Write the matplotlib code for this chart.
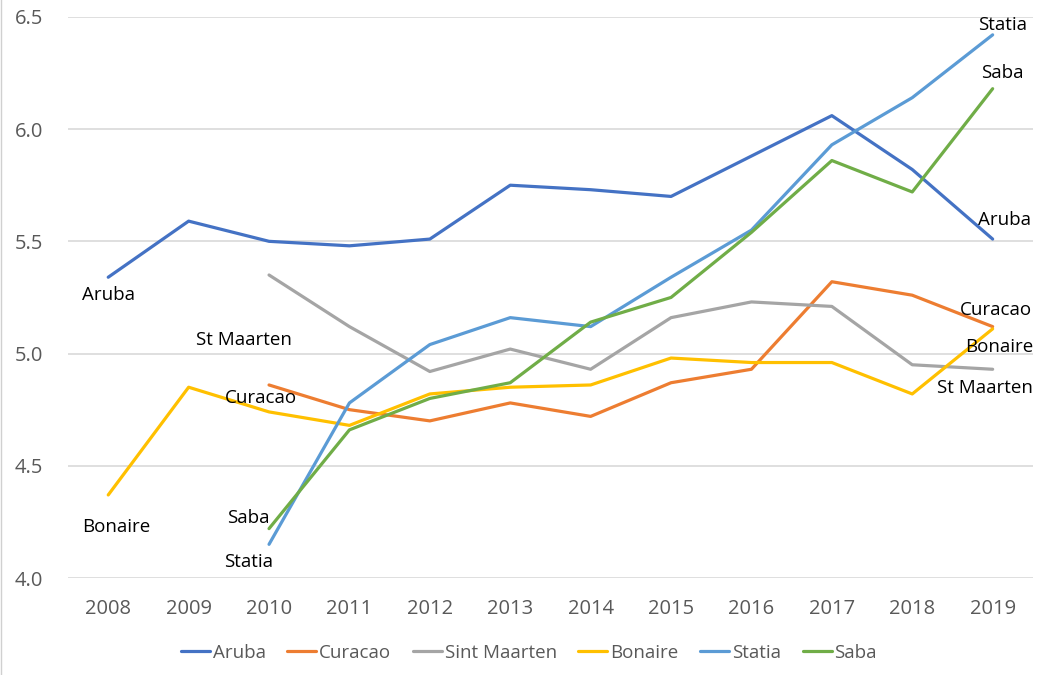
import matplotlib
matplotlib.use("Agg")
import matplotlib.pyplot as plt
from matplotlib.lines import Line2D

years = ["2008", "2009", "2010", "2011", "2012", "2013", "2014", "2015", "2016", "2017", "2018", "2019"]

aruba = [5.34, 5.59, 5.50, 5.48, 5.51, 5.75, 5.73, 5.70, 5.88, 6.06, 5.82, 5.51]
curacao = [None, None, 4.86, 4.75, 4.70, 4.78, 4.72, 4.87, 4.93, 5.32, 5.26, 5.12]
st_maarten = [None, None, 5.35, 5.12, 4.92, 5.02, 4.93, 5.16, 5.23, 5.21, 4.95, 4.93]
bonaire = [4.37, 4.85, 4.74, 4.68, 4.82, 4.85, 4.86, 4.98, 4.96, 4.96, 4.82, 5.11]
statia = [None, None, 4.15, 4.78, 5.04, 5.16, 5.12, 5.34, 5.55, 5.93, 6.14, 6.42]
saba = [None, None, 4.22, 4.66, 4.80, 4.87, 5.14, 5.25, 5.54, 5.86, 5.72, 6.18]

names = ["Aruba", "Curacao", "Sint Maarten", "Bonaire", "Statia", "Saba"]
short = ["Aruba", "Curacao", "St Maarten", "Bonaire", "Statia", "Saba"]
series = [aruba, curacao, st_maarten, bonaire, statia, saba]
colors = ["#4472C4", "#ED7D31", "#A5A5A5", "#FFC000", "#5B9BD5", "#70AD47"]

# label offsets in pixels (dx, dy) for first and last point
first_off = [(0, -18), (-8, -13), (-25, -65), (8, -32), (-20, -18), (-21, 11)]
last_off = [(12, 19), (3, 17), (-8, -19), (7, -18), (10, 10), (10, 16)]

plt.rcParams["font.family"] = ["Open Sans", "DejaVu Sans"]

fig = plt.figure(figsize=(10.37, 6.75), dpi=100)
ax = fig.add_axes([0.0656, 0.1437, 0.9304, 0.8313])

x = list(range(len(years)))
for name, lab, vals, c, fo, lo in zip(names, short, series, colors, first_off, last_off):
    xs = [i for i, v in zip(x, vals) if v is not None]
    ys = [v for v in vals if v is not None]
    ax.plot(xs, ys, color=c, lw=2.3, label=name, solid_capstyle="round")
    ax.annotate(lab, (xs[0], ys[0]), xytext=fo, textcoords="offset pixels",
                ha="center", va="center", fontsize=13.5, color="black")
    ax.annotate(lab, (xs[-1], ys[-1]), xytext=lo, textcoords="offset pixels",
                ha="center", va="center", fontsize=13.5, color="black")

ax.set_xlim(-0.5, 11.5)
ax.set_ylim(4.0, 6.5)
ax.set_yticks([4.0, 4.5, 5.0, 5.5, 6.0, 6.5])
ax.set_yticklabels(["4.0", "4.5", "5.0", "5.5", "6.0", "6.5"])
ax.set_xticks(x)
ax.set_xticklabels(years)
ax.tick_params(length=0, colors="#595959", labelsize=14.5)
ax.tick_params(axis="x", pad=15)
ax.tick_params(axis="y", pad=18)
ax.grid(axis="y", color="#D9D9D9", lw=1.2)
ax.set_axisbelow(True)
for s in ax.spines.values():
    s.set_visible(False)

fig.legend(loc="lower center", bbox_to_anchor=(0.51, -0.005), ncol=6, frameon=False,
           fontsize=13.5, handlelength=1.55, handletextpad=0.15, columnspacing=1.15,
           labelcolor="#595959")

# thin chart-area border on the left edge
fig.add_artist(Line2D([0.001, 0.001], [0, 1], transform=fig.transFigure, color="#D0D0D0", lw=1))

fig.savefig("out.png", dpi=100)
